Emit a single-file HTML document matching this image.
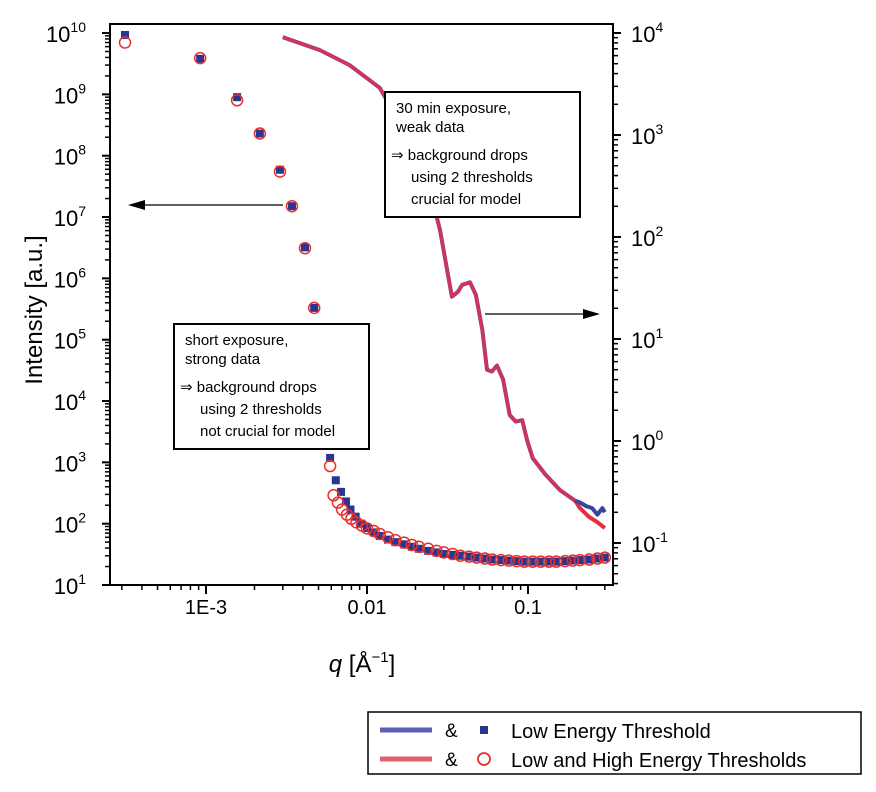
<!DOCTYPE html>
<html><head><meta charset="utf-8"><style>
body{margin:0;background:#fff;}
svg{display:block;font-family:"Liberation Sans",Arial,sans-serif;}
</style></head><body>
<svg id="chart" width="876" height="792" viewBox="0 0 876 792">
<rect x="0" y="0" width="876" height="792" fill="#fff"/>
<g id="marks"></g>
<g id="axes"></g>
</svg>
<script>
// ---- data ----
const sqQ = [3.14e-4,9.2e-4,1.56e-3,2.16e-3,2.88e-3,3.42e-3,4.12e-3,4.7e-3,5.9e-3,6.4e-3,6.9e-3,7.4e-3,7.9e-3,8.5e-3,9.2e-3,1.0e-2,1.1e-2,1.2e-2,1.35e-2,1.5e-2,1.7e-2,1.9e-2,2.1e-2,2.4e-2,2.7e-2,3.0e-2,3.4e-2,3.8e-2,4.3e-2,4.8e-2,5.4e-2,6.0e-2,6.8e-2,7.6e-2,8.5e-2,9.5e-2,0.107,0.12,0.135,0.15,0.17,0.19,0.21,0.24,0.27,0.3];
const sqI = [9.3e9,3.8e9,9e8,2.3e8,5.9e7,1.5e7,3.2e6,3.3e5,1180,510,330,230,170,130,100,85,72,63,55,50,46,42,39,36,34,32,31,30,29,28,27,26,25.5,25,24.5,24,24,24,24,24,24.5,25,25.5,26,27,28];
const ciQ = [3.14e-4,9.2e-4,1.56e-3,2.16e-3,2.88e-3,3.42e-3,4.12e-3,4.7e-3,5.9e-3,6.2e-3,6.6e-3,7.0e-3,7.5e-3,8.0e-3,8.6e-3,9.3e-3,1.0e-2,1.1e-2,1.2e-2,1.35e-2,1.5e-2,1.7e-2,1.9e-2,2.1e-2,2.4e-2,2.7e-2,3.0e-2,3.4e-2,3.8e-2,4.3e-2,4.8e-2,5.4e-2,6.0e-2,6.8e-2,7.6e-2,8.5e-2,9.5e-2,0.107,0.12,0.135,0.15,0.17,0.19,0.21,0.24,0.27,0.3];
const ciI = [7e9,3.9e9,8e8,2.3e8,5.5e7,1.5e7,3.1e6,3.3e5,870,290,220,170,140,120,105,93,84,76,68,60,54,49,45,42,39,36,34,32,30,29,28,27,26,25.5,25,24.5,24,24,24,24,24,24.5,25,25.5,26,27,28];
const lnQ = [3.0e-3,5.1e-3,7.8e-3,1.2e-2,1.85e-2,2.46e-2,2.84e-2,3.18e-2,3.37e-2,3.67e-2,3.9e-2,4.36e-2,4.75e-2,5.2e-2,5.56e-2,5.97e-2,6.42e-2,7.0e-2,7.7e-2,8.4e-2,9.2e-2,9.9e-2,0.107,0.128,0.158,0.196];
const lnI = [9100,6800,4850,2900,890,290,117,43,26,29,34,36,27,12.3,5.0,4.8,5.5,4.0,1.8,1.55,1.6,1.0,0.68,0.47,0.33,0.26];
const blueTailQ = [0.21,0.23,0.25,0.27,0.29,0.3];
const blueTailI = [0.25,0.23,0.22,0.19,0.22,0.2];
const redTailQ = [0.21,0.24,0.27,0.3];
const redTailI = [0.22,0.18,0.16,0.14];
const xTicks = [1e-3,1e-2,1e-1];
const xTickLabels = ["1E-3","0.01","0.1"];
const yLeftExp = [1,2,3,4,5,6,7,8,9,10];
const yRightExp = [-1,0,1,2,3,4];

// ---- scales ----
const L=110,R=613,T=24,B=585;
const X = q => 367 + 161*(Math.log10(q)+2);
const YL = v => 585 - 61.33*(Math.log10(v)-1);
const YR = v => 33 + 102*(4-Math.log10(v));
const NS="http://www.w3.org/2000/svg";
function mk(tag,attrs,parent){const e=document.createElementNS(NS,tag);for(const k in attrs)e.setAttribute(k,attrs[k]);parent.appendChild(e);return e;}
const marks=document.getElementById('marks'), axes=document.getElementById('axes');

function path(qs,is){return qs.map((q,i)=>(i?'L':'M')+X(q).toFixed(1)+','+YR(is[i]).toFixed(1)).join(' ');}
let p=mk('path',{d:path(lnQ,lnI),fill:'none',stroke:'#8a3a8a','stroke-width':4,'stroke-linejoin':'round'},marks);


p=mk('path',{d:path(lnQ,lnI),fill:'none',stroke:'#dc3450','stroke-width':3,'stroke-linejoin':'round','stroke-opacity':0.85},marks);


p=mk('path',{d:path(lnQ.slice(-1).concat(redTailQ),[lnI[lnI.length-1]].concat(redTailI)),fill:'none',stroke:'#e03040','stroke-width':4,'stroke-linejoin':'round'},marks);


p=mk('path',{d:path(lnQ.slice(-1).concat(blueTailQ),[lnI[lnI.length-1]].concat(blueTailI)),fill:'none',stroke:'#3a44a0','stroke-width':4,'stroke-linejoin':'round'},marks);



sqQ.forEach((q,i)=>{const r=mk('rect',{x:X(q)-4,y:YL(sqI[i])-4,width:8,height:8,fill:'#2a3590'},marks);

});
ciQ.forEach((q,i)=>{const c=mk('circle',{cx:X(q),cy:YL(ciI[i]),r:5.5,fill:'none',stroke:'#e8302a','stroke-width':1.5},marks);

});

mk('rect',{x:L,y:T,width:R-L,height:B-T,fill:'none',stroke:'#000','stroke-width':2},axes);
yLeftExp.forEach(e=>{const y=YL(Math.pow(10,e));mk('line',{x1:L-8,x2:L,y1:y,y2:y,stroke:'#000','stroke-width':2},axes);
const t=mk('text',{x:L-24,y:y+9,'text-anchor':'end','font-size':22},axes);t.innerHTML='10<tspan dy="-10" font-size="14">'+e+'</tspan>';


if(e<10)for(let m=2;m<10;m++){const yy=YL(m*Math.pow(10,e));mk('line',{x1:L-5,x2:L,y1:yy,y2:yy,stroke:'#000','stroke-width':1.5},axes);}});
yRightExp.forEach(e=>{const y=YR(Math.pow(10,e));mk('line',{x1:R,x2:R+8,y1:y,y2:y,stroke:'#000','stroke-width':2},axes);
const t=mk('text',{x:R+18,y:y+9,'font-size':22},axes);t.innerHTML='10<tspan dy="-10" font-size="14">'+e+'</tspan>';


for(let m=2;m<10;m++){const yy=YR(m*Math.pow(10,e));if(yy>T)mk('line',{x1:R,x2:R+5,y1:yy,y2:yy,stroke:'#000','stroke-width':1.5},axes);}});
for(let m=4;m<10;m++){const yy=YR(m*0.01);if(yy<B)mk('line',{x1:R,x2:R+5,y1:yy,y2:yy,stroke:'#000','stroke-width':1.5},axes);}
[1e-4,1e-3,1e-2,1e-1].forEach(d=>{for(let m=1;m<10;m++){const x=X(m*d);if(x<L||x>R)continue;mk('line',{x1:x,x2:x,y1:B,y2:B+(m==1?9:5),stroke:'#000','stroke-width':m==1?2:1.5},axes);}});
xTicks.forEach((q,i)=>{const t=mk('text',{x:X(q),y:B+29,'text-anchor':'middle','font-size':20},axes);t.textContent=xTickLabels[i];

});
</script>
<svg width="876" height="792" style="position:absolute;left:0;top:0" font-family="Liberation Sans, Arial, sans-serif">
<text transform="translate(42,310) rotate(-90)" text-anchor="middle" font-size="24">Intensity [a.u.]</text>
<text x="362" y="672" text-anchor="middle" font-size="24"><tspan font-style="italic">q</tspan> [Å<tspan dy="-10" font-size="15">−1</tspan><tspan dy="10">]</tspan></text>
<g>
<line x1="283" y1="205" x2="140" y2="205" stroke="#000" stroke-width="1.2"/>
<polygon points="128,205 145,200 145,210" fill="#000"/>
</g>
<g>
<line x1="485" y1="314" x2="588" y2="314" stroke="#000" stroke-width="1.2"/>
<polygon points="600,314 583,309 583,319" fill="#000"/>
</g>
<g>
<rect x="385" y="92" width="195" height="125" fill="#fff" stroke="#000" stroke-width="2"/>
<text x="396" y="113" font-size="15">30 min exposure,</text>
<text x="396" y="132" font-size="15">weak data</text>
<text x="391" y="160" font-size="15">⇒ background drops</text>
<text x="411" y="182" font-size="15">using 2 thresholds</text>
<text x="411" y="204" font-size="15">crucial for model</text>
</g>
<g>
<rect x="174" y="324" width="195" height="125" fill="#fff" stroke="#000" stroke-width="2"/>
<text x="185" y="345" font-size="15">short exposure,</text>
<text x="185" y="364" font-size="15">strong data</text>
<text x="180" y="392" font-size="15">⇒ background drops</text>
<text x="200" y="414" font-size="15">using 2 thresholds</text>
<text x="200" y="436" font-size="15">not crucial for model</text>
</g>
<g>
<rect x="368" y="712" width="493" height="62" fill="#fff" stroke="#000" stroke-width="1.5"/>
<line x1="380" y1="730" x2="432" y2="730" stroke="#5a62b0" stroke-width="5"/>
<text x="445" y="737" font-size="19">&amp;</text>
<rect x="480" y="726" width="8" height="8" fill="#2a3590"/>
<text x="511" y="738" font-size="20">Low Energy Threshold</text>
<line x1="380" y1="759" x2="432" y2="759" stroke="#e06070" stroke-width="5"/>
<text x="445" y="766" font-size="19">&amp;</text>
<circle cx="484" cy="759" r="6" fill="none" stroke="#e8302a" stroke-width="1.8"/>
<text x="511" y="767" font-size="20">Low and High Energy Thresholds</text>
</g>
</svg>
</body></html>
